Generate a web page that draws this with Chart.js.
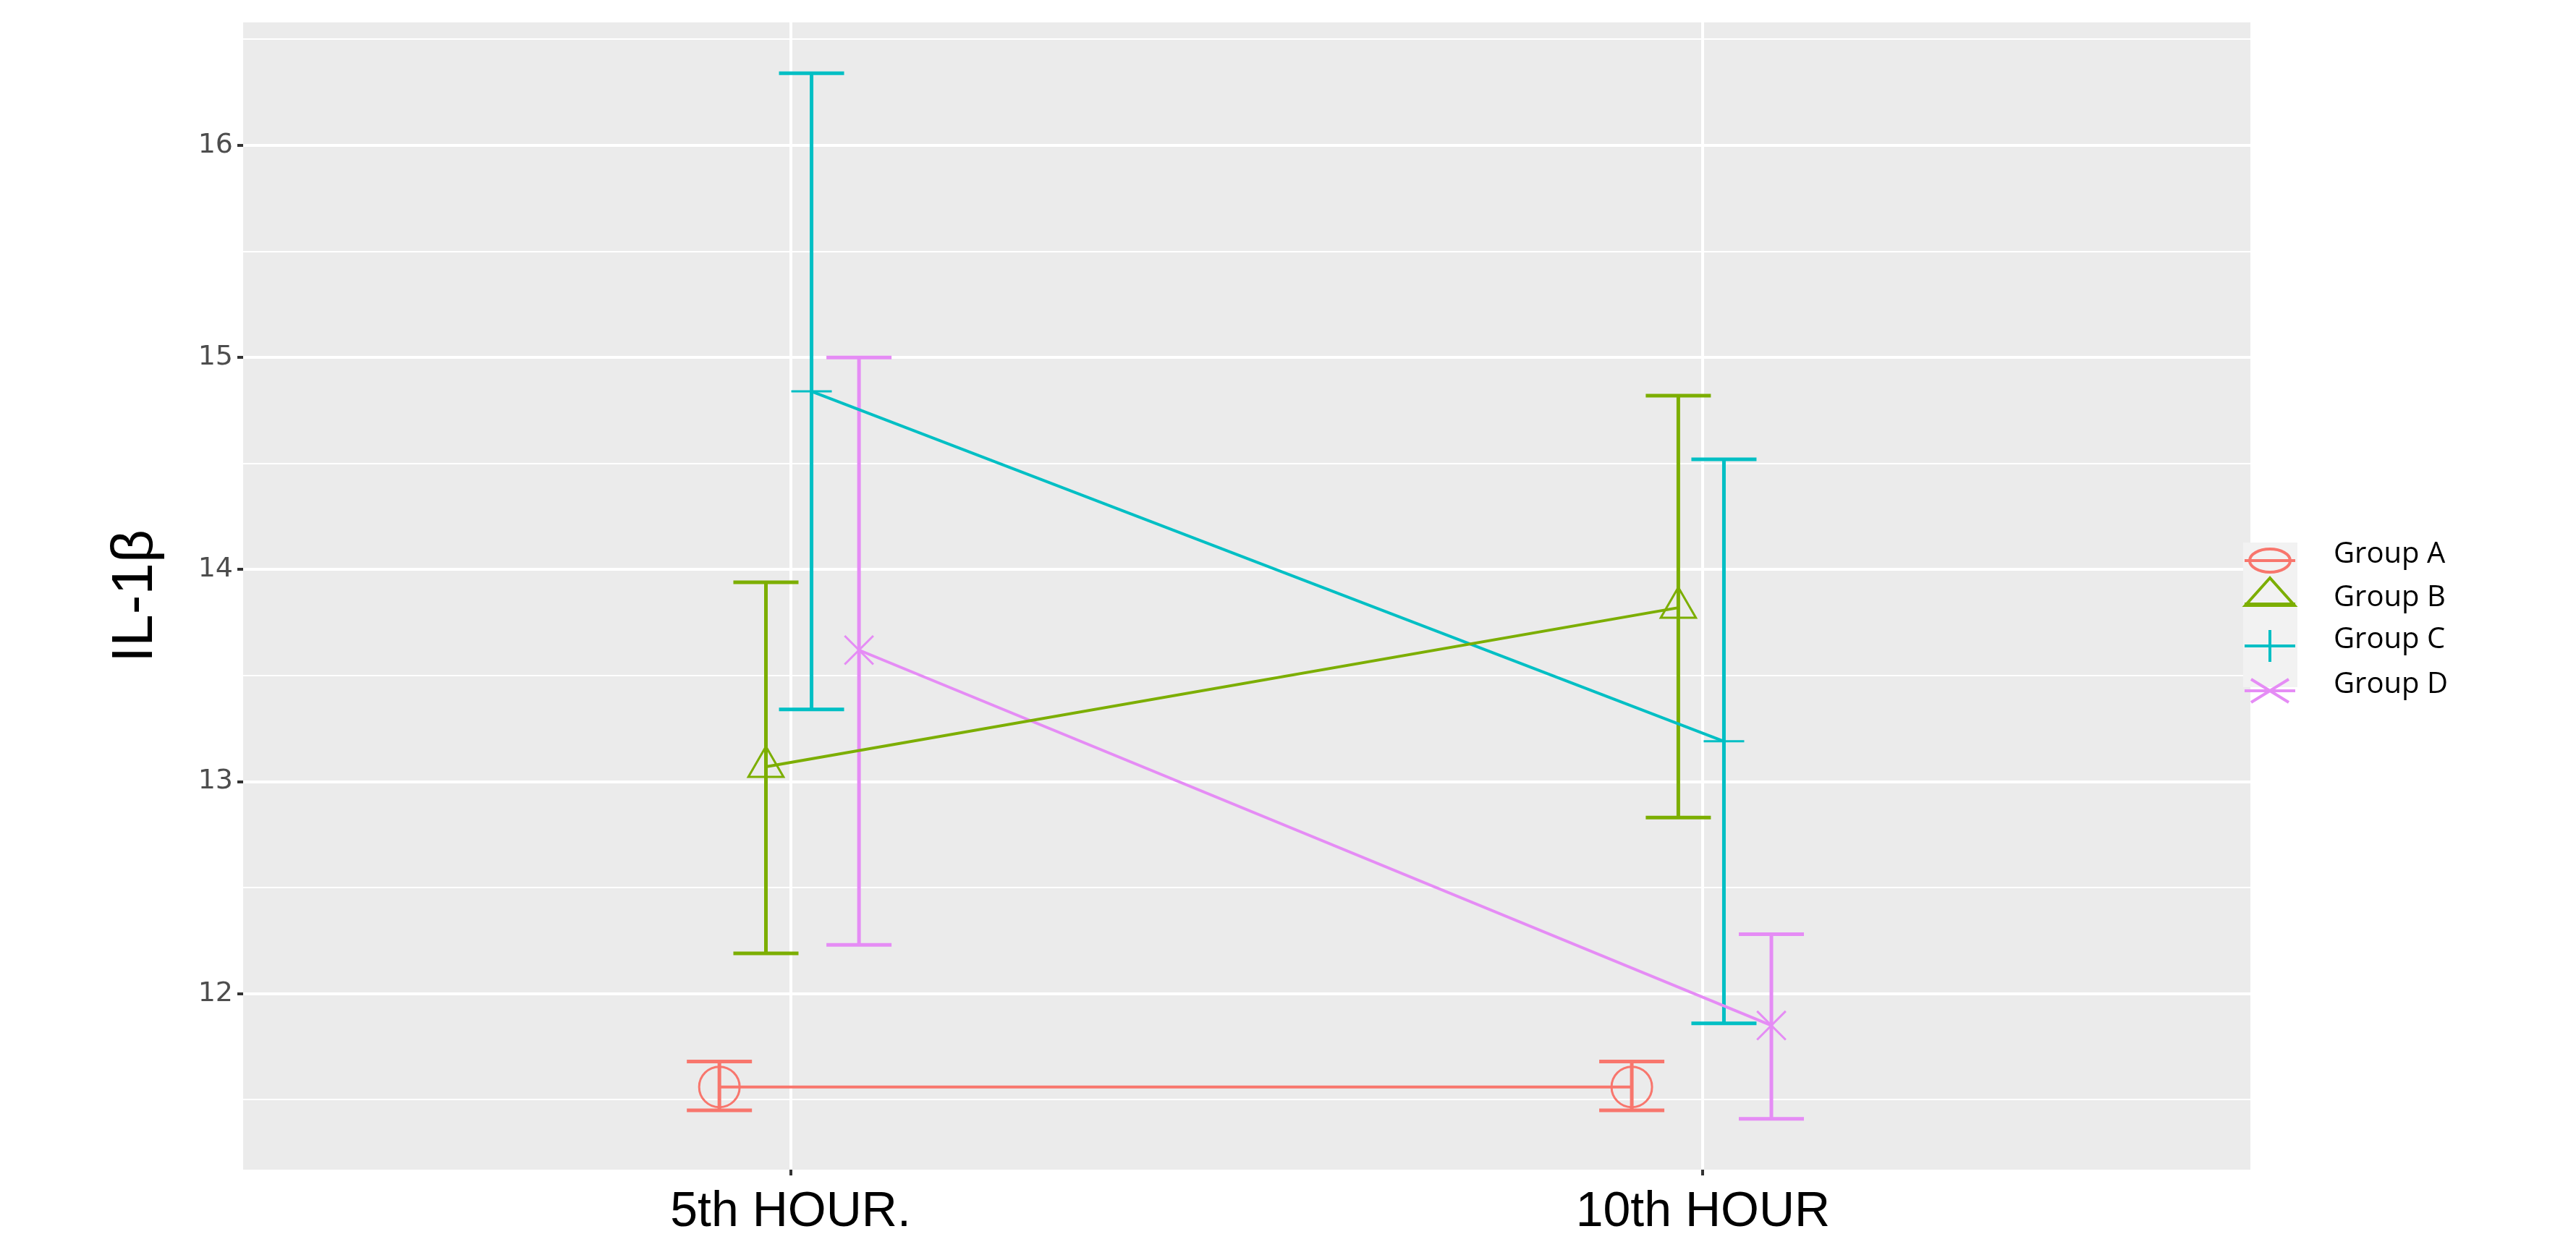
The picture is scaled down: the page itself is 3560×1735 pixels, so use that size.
<!DOCTYPE html>
<html><head><meta charset="utf-8">
<script src="https://cdn.jsdelivr.net/npm/chart.js@4"></script>
<style>html,body{margin:0;padding:0;background:#fff}#w{width:3560px;height:1735px}</style>
</head><body><div id="w"><canvas id="c"></canvas></div>
<script>
const categories = ["5th HOUR.", "10th HOUR"];
const groups = ["Group A", "Group B", "Group C", "Group D"];
const meanA = [11.56, 11.56], lowA = [11.45, 11.45], highA = [11.68, 11.68];
const meanB = [13.07, 13.82], lowB = [12.19, 12.83], highB = [13.94, 14.82];
const meanC = [14.84, 13.19], lowC = [13.34, 11.86], highC = [16.34, 14.52];
const meanD = [13.62, 11.85], lowD = [12.23, 11.41], highD = [15.00, 12.28];
const yTicks = [12, 13, 14, 15, 16];

const colors = ["#F8766D", "#7CAE00", "#00BFC4", "#E58CF5"];
const styles = ["circle", "triangle", "cross", "crossRot"];
const dodge = [-0.078, -0.027, 0.023, 0.075];
const means = [meanA, meanB, meanC, meanD], lows = [lowA, lowB, lowC, lowD], highs = [highA, highB, highC, highD];

const datasets = groups.map((g, i) => ({
  label: g,
  data: means[i].map((v, k) => ({x: k + 1 + dodge[i], y: v})),
  lows: lows[i], highs: highs[i],
  showLine: true, borderColor: colors[i], backgroundColor: 'transparent',
  borderWidth: 4, pointStyle: styles[i], pointRadius: 28, pointBorderWidth: 3,
  pointBorderColor: colors[i]
}));

const errPlugin = {
  id: 'err',
  beforeDatasetsDraw(chart) {
    const {ctx, scales: {x, y}} = chart;
    ctx.save();
    chart.data.datasets.forEach(ds => {
      ds.data.forEach((p, k) => {
        const px = x.getPixelForValue(p.x);
        const y1 = y.getPixelForValue(ds.lows[k]), y2 = y.getPixelForValue(ds.highs[k]);
        ctx.strokeStyle = ds.borderColor; ctx.lineWidth = 5;
        ctx.beginPath();
        ctx.moveTo(px, y1); ctx.lineTo(px, y2);
        ctx.moveTo(px - 45, y1); ctx.lineTo(px + 45, y1);
        ctx.moveTo(px - 45, y2); ctx.lineTo(px + 45, y2);
        ctx.stroke();
      });
    });
    ctx.restore();
  },
  beforeDraw(chart) {
    const {ctx, chartArea: a} = chart;
    ctx.save(); ctx.fillStyle = '#EBEBEB';
    ctx.fillRect(a.left, a.top, a.right - a.left, a.bottom - a.top);
    ctx.restore();
  },
  afterDraw(chart) {
    const ctx = chart.ctx;
    ctx.save();
    ctx.fillStyle = '#F2F2F2';
    ctx.fillRect(3100, 750, 75, 200);
    const rows = [775, 835, 893, 955];
    groups.forEach((g, i) => {
      const cx = 3137, cy = rows[i];
      ctx.strokeStyle = colors[i]; ctx.lineWidth = 4;
      ctx.beginPath(); ctx.moveTo(3102, cy); ctx.lineTo(3172, cy); ctx.stroke();
      ctx.beginPath();
      if (i === 0) { ctx.ellipse(cx, cy, 28, 16, 0, 0, Math.PI * 2); }
      else if (i === 1) { ctx.moveTo(cx, cy - 36); ctx.lineTo(cx - 34, cy + 2); ctx.lineTo(cx + 34, cy + 2); ctx.closePath(); }
      else if (i === 2) { ctx.moveTo(cx, cy - 22); ctx.lineTo(cx, cy + 22); }
      else { ctx.moveTo(cx - 26, cy - 16); ctx.lineTo(cx + 26, cy + 16); ctx.moveTo(cx - 26, cy + 16); ctx.lineTo(cx + 26, cy - 16); }
      ctx.stroke();
      ctx.fillStyle = '#000'; ctx.font = '40px "Open Sans"'; ctx.textBaseline = 'middle';
      ctx.fillText(g, 3225, cy - 8);
    });
    ctx.restore();
  }
};

new Chart(document.getElementById('c'), {
  type: 'scatter',
  data: {datasets},
  plugins: [errPlugin],
  options: {
    responsive: true, maintainAspectRatio: false, animation: false,
    layout: {padding: {top: 23, right: 450, left: 0, bottom: 0}},
    plugins: {legend: {display: false}, tooltip: {enabled: false}},
    scales: {
      x: {
        type: 'linear', min: 0.40, max: 2.60,
        afterBuildTicks: ax => { ax.ticks = [{value: 1}, {value: 2}]; },
        afterFit: ax => { ax.height = 118; },
        ticks: {callback: v => categories[v - 1] || '', color: '#000', font: {size: 68, family: 'Liberation Sans'}, padding: 10},
        grid: {color: '#FFFFFF', lineWidth: 4, drawTicks: true, tickLength: 8, tickColor: '#333'},
        border: {display: false}
      },
      y: {
        min: 11.17, max: 16.58,
        afterBuildTicks: ax => { ax.ticks = [11.5, 12, 12.5, 13, 13.5, 14, 14.5, 15, 15.5, 16, 16.5].map(v => ({value: v})); },
        afterFit: ax => { ax.width = 336; },
        ticks: {callback: v => yTicks.includes(v) ? String(v) : '', color: '#4D4D4D', font: {size: 38, family: 'DejaVu Sans'}, padding: 6},
        grid: {color: '#FFFFFF', lineWidth: c => yTicks.includes(c.tick.value) ? 4 : 2, tickLength: 8, tickColor: c => yTicks.includes(c.tick.value) ? '#333' : 'rgba(0,0,0,0)'},
        border: {display: false},
        title: {display: true, text: 'IL-1β', color: '#000', font: {size: 80, family: 'Liberation Sans'}, padding: {top: 140, bottom: 0}}
      }
    }
  }
});
</script></body></html>
